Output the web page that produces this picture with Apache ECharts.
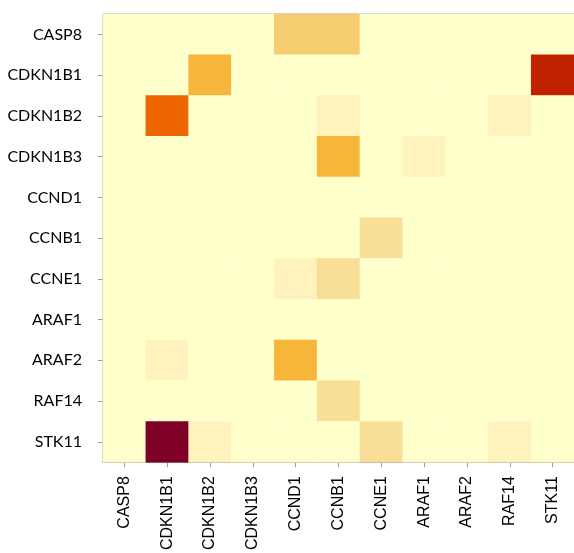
<!DOCTYPE html>
<html>
<head>
<meta charset="utf-8">
<script src="https://cdn.jsdelivr.net/npm/echarts@6/dist/echarts.min.js"></script>
<style>html,body{margin:0;padding:0;background:#fff;}#c{width:574px;height:553px;}</style>
</head>
<body>
<div id="c"></div>
<script>
const genes = ['CASP8','CDKN1B1','CDKN1B2','CDKN1B3','CCND1','CCNB1','CCNE1','ARAF1','ARAF2','RAF14','STK11'];
const rowCASP8   = [0,0,0,0,3,3,0,0,0,0,0];
const rowCDKN1B1 = [0,0,4,0,0,0,0,0,0,0,6];
const rowCDKN1B2 = [0,5,0,0,0,1,0,0,0,1,0];
const rowCDKN1B3 = [0,0,0,0,0,4,0,1,0,0,0];
const rowCCND1   = [0,0,0,0,0,0,0,0,0,0,0];
const rowCCNB1   = [0,0,0,0,0,0,2,0,0,0,0];
const rowCCNE1   = [0,0,0,0,1,2,0,0,0,0,0];
const rowARAF1   = [0,0,0,0,0,0,0,0,0,0,0];
const rowARAF2   = [0,1,0,0,4,0,0,0,0,0,0];
const rowRAF14   = [0,0,0,0,0,2,0,0,0,0,0];
const rowSTK11   = [0,7,1,0,0,0,2,0,0,1,0];
const rows = [rowCASP8,rowCDKN1B1,rowCDKN1B2,rowCDKN1B3,rowCCND1,rowCCNB1,rowCCNE1,rowARAF1,rowARAF2,rowRAF14,rowSTK11];
const palette = ['#FFFFCC','#FFF2BC','#F9DE98','#F6CD6E','#F7B53A','#EE6600','#C02200','#7F0027'];

const data = [];
rows.forEach((r, yi) => r.forEach((v, xi) => data.push([xi, yi, v])));

const chart = echarts.init(document.getElementById('c'), null, {renderer:'canvas'});
chart.setOption({
  animation: false,
  backgroundColor: '#fff',
  grid: {left: 103, top: 14, width: 472, height: 449, show: true, borderColor: '#A0A0A0', borderWidth: 1, backgroundColor: 'transparent'},
  xAxis: {
    type: 'category', data: genes, position: 'bottom',
    axisLine: {show: true, lineStyle: {color: '#A0A0A0', width: 1}},
    axisTick: {show: true, alignWithLabel: true, length: 5, lineStyle: {color: '#A0A0A0'}},
    axisLabel: {rotate: 90, margin: 14, fontFamily: 'Liberation Sans, Arial', fontSize: 16, color: '#000'},
    splitLine: {show: false}
  },
  yAxis: {
    type: 'category', data: genes, inverse: true,
    axisLine: {show: true, lineStyle: {color: '#A0A0A0', width: 1}},
    axisTick: {show: true, alignWithLabel: true, length: 5, lineStyle: {color: '#A0A0A0'}},
    axisLabel: {margin: 21, fontFamily: 'Lato', fontSize: 16, color: '#000'},
    splitLine: {show: false}
  },
  visualMap: {show: false, type: 'continuous', min: 0, max: 7, dimension: 2, inRange: {color: palette}},
  series: [{
    type: 'heatmap', data: data,
    itemStyle: {borderWidth: 0},
    emphasis: {disabled: true}
  }]
});
</script>
</body>
</html>
